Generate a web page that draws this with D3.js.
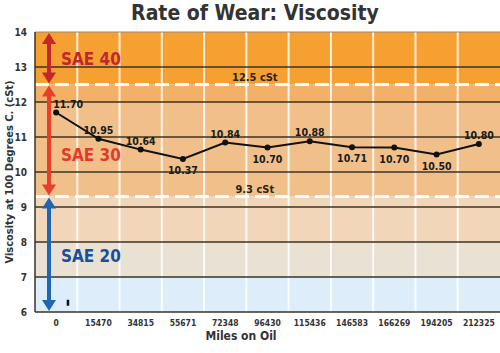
<!DOCTYPE html>
<html>
<head>
<meta charset="utf-8">
<script src="https://cdn.jsdelivr.net/npm/d3@7"></script>
<style>
body { margin: 0; background: #fff; }
text { font-family: "Liberation Sans Narrow", "DejaVu Sans Condensed", sans-serif; font-weight: bold; }
</style>
</head>
<body>
<svg width="500" height="353"></svg>
<script>
// ================================ DATA ================================
var miles = ["0", "15470", "34815", "55671", "72348", "96430", "115436", "146583", "166269", "194205", "212325"];
var viscosity = [11.70, 10.95, 10.64, 10.37, 10.84, 10.70, 10.88, 10.71, 10.70, 10.50, 10.80];
var yTicks = [6, 7, 8, 9, 10, 11, 12, 13, 14];
var zoneLow = [6, 7, 8, 9.3, 12, 12.5];
var zoneHigh = [7, 8, 9.3, 12, 12.5, 14];
var limits = [12.5, 9.3];
var limitLabels = ["12.5 cSt", "9.3 cSt"];
var grades = ["SAE 40", "SAE 30", "SAE 20"];
var gradeLow = [12.5, 9.3, 6];
var gradeHigh = [14, 12.5, 9.3];

// ================================ STYLE ================================
var zoneColors = ["#ddeefa", "#e9e1d4", "#f1d6ba", "#f1bf8a", "#f3b067", "#f6a031"];
var gradeColors = ["#c4262e", "#e83f2b", "#1c66b4"];
var gradeTextColors = ["#c4262e", "#e53a2a", "#1a4f9c"];
var gradeLabelAt = [13.05, 10.32, 7.42];
var labelBelow = [false, false, false, true, false, true, false, true, true, true, false];

var plotLeft = 35, plotRight = 500, plotTop = 32, plotBottom = 312;

var svg = d3.select("svg");

var xs = d3.scaleBand().domain(miles).range([plotLeft, plotRight]).padding(0);
var ys = d3.scaleLinear().domain([6, 14]).range([plotBottom, plotTop]);

// ================================ BACKGROUND ================================
svg.append("g")
    .selectAll("rect")
    .data(zoneLow)
    .enter()
    .append("rect")
    .attr("x", plotLeft)
    .attr("width", plotRight - plotLeft)
    .attr("y", function(d, i) { return ys(zoneHigh[i]); })
    .attr("height", function(d, i) { return ys(d) - ys(zoneHigh[i]); })
    .attr("fill", function(d, i) { return zoneColors[i]; });

// vertical white separators
svg.append("g")
    .selectAll("line")
    .data(miles.slice(1))
    .enter()
    .append("line")
    .attr("x1", function(d) { return xs(d); })
    .attr("x2", function(d) { return xs(d); })
    .attr("y1", plotTop)
    .attr("y2", plotBottom)
    .attr("stroke", "#fff")
    .attr("stroke-opacity", 0.85)
    .attr("stroke-width", 2);

// horizontal grid
svg.append("g")
    .selectAll("line")
    .data(yTicks.slice(1, -1))
    .enter()
    .append("line")
    .attr("x1", plotLeft)
    .attr("x2", plotRight)
    .attr("y1", function(d) { return ys(d); })
    .attr("y2", function(d) { return ys(d); })
    .attr("stroke", "#3b3322")
    .attr("stroke-width", 1.5);

// dashed limit lines
svg.append("g")
    .selectAll("line")
    .data(limits)
    .enter()
    .append("line")
    .attr("x1", plotLeft)
    .attr("x2", plotRight)
    .attr("y1", function(d) { return ys(d); })
    .attr("y2", function(d) { return ys(d); })
    .attr("stroke", "#fff")
    .attr("stroke-width", 3)
    .attr("stroke-dasharray", "14,6");

svg.append("g")
    .selectAll("text")
    .data(limits)
    .enter()
    .append("text")
    .attr("x", xs("72348") + xs.bandwidth() * 1.2)
    .attr("y", function(d) { return ys(d) - 4; })
    .attr("text-anchor", "middle")
    .attr("font-size", 11)
    .attr("fill", "#2a2418")
    .text(function(d, i) { return limitLabels[i]; });

// ================================ AXES ================================
svg.append("line")
    .attr("x1", plotLeft).attr("x2", plotRight)
    .attr("y1", plotTop).attr("y2", plotTop)
    .attr("stroke", "#9a8a70").attr("stroke-width", 1);

svg.append("line")
    .attr("x1", plotLeft).attr("x2", plotRight)
    .attr("y1", plotBottom).attr("y2", plotBottom)
    .attr("stroke", "#3b3322").attr("stroke-width", 1.5);

svg.append("line")
    .attr("x1", plotLeft).attr("x2", plotLeft)
    .attr("y1", plotTop).attr("y2", plotBottom)
    .attr("stroke", "#3b3322").attr("stroke-width", 1.5);

var yAxis = svg.append("g")
    .attr("transform", "translate(" + (plotLeft - 8) + ",0)")
    .call(d3.axisLeft(ys).tickValues(yTicks).tickSize(0).tickPadding(0));
yAxis.select(".domain").remove();
yAxis.selectAll("text")
    .attr("font-size", 10)
    .attr("fill", "#333")
    .style("font-family", null);

var xAxis = svg.append("g")
    .attr("transform", "translate(0," + plotBottom + ")")
    .call(d3.axisBottom(xs).tickSize(0).tickPadding(8));
xAxis.select(".domain").remove();
xAxis.selectAll("text")
    .attr("font-size", 8.5)
    .attr("fill", "#333")
    .style("font-family", null);

// ================================ GRADE ARROWS ================================
var arrowX = 49;
var grade = svg.append("g")
    .selectAll("g")
    .data(grades)
    .enter()
    .append("g");

grade.append("line")
    .attr("x1", arrowX).attr("x2", arrowX)
    .attr("y1", function(d, i) { return ys(gradeHigh[i]) + 6; })
    .attr("y2", function(d, i) { return ys(gradeLow[i]) - 6; })
    .attr("stroke", function(d, i) { return gradeColors[i]; })
    .attr("stroke-width", 4);

grade.append("path")
    .attr("d", function(d, i) {
        var t = ys(gradeHigh[i]), b = ys(gradeLow[i]);
        return "M" + arrowX + "," + (t + 1) + "L" + (arrowX + 7) + "," + (t + 12) + "L" + (arrowX - 7) + "," + (t + 12) + "Z" +
               "M" + arrowX + "," + (b - 1) + "L" + (arrowX + 7) + "," + (b - 12) + "L" + (arrowX - 7) + "," + (b - 12) + "Z";
    })
    .attr("fill", function(d, i) { return gradeColors[i]; });

grade.append("text")
    .attr("x", arrowX + 12)
    .attr("y", function(d, i) { return ys(gradeLabelAt[i]); })
    .attr("font-size", 17)
    .attr("fill", function(d, i) { return gradeTextColors[i]; })
    .text(function(d) { return d; });

svg.append("rect")
    .attr("x", xs("0") + xs.bandwidth() * 0.75)
    .attr("y", ys(6.35))
    .attr("width", 2.5)
    .attr("height", 6)
    .attr("fill", "#111");

// ================================ LINE ================================
var points = miles.map(function(m, i) { return { m: m, v: viscosity[i], below: labelBelow[i] }; });

svg.append("path")
    .datum(points)
    .attr("fill", "none")
    .attr("stroke", "#111")
    .attr("stroke-width", 2)
    .attr("d", d3.line()
        .x(function(d) { return xs(d.m) + xs.bandwidth() / 2; })
        .y(function(d) { return ys(d.v); }));

svg.append("g")
    .selectAll("circle")
    .data(points)
    .enter()
    .append("circle")
    .attr("cx", function(d) { return xs(d.m) + xs.bandwidth() / 2; })
    .attr("cy", function(d) { return ys(d.v); })
    .attr("r", 3)
    .attr("fill", "#111");

svg.append("g")
    .selectAll("text")
    .data(points)
    .enter()
    .append("text")
    .attr("x", function(d, i) { return xs(d.m) + xs.bandwidth() / 2 + (i === 0 ? 12 : 0); })
    .attr("y", function(d) { return ys(d.v) + (d.below ? 15 : -5); })
    .attr("text-anchor", "middle")
    .attr("font-size", 10.5)
    .attr("fill", "#1a1a1a")
    .text(function(d) { return d.v.toFixed(2); });

// ================================ TITLES ================================
svg.append("text")
    .attr("x", 255)
    .attr("y", 20)
    .attr("text-anchor", "middle")
    .attr("font-size", 21)
    .attr("fill", "#333")
    .text("Rate of Wear: Viscosity");

svg.append("text")
    .attr("transform", "translate(13," + ys(10) + ")rotate(-90)")
    .attr("text-anchor", "middle")
    .attr("font-size", 11)
    .attr("fill", "#333")
    .text("Viscosity at 100 Degrees C. (cSt)");

svg.append("text")
    .attr("x", 241)
    .attr("y", 340)
    .attr("text-anchor", "middle")
    .attr("font-size", 12)
    .attr("fill", "#333")
    .text("Miles on Oil");
</script>
</body>
</html>
